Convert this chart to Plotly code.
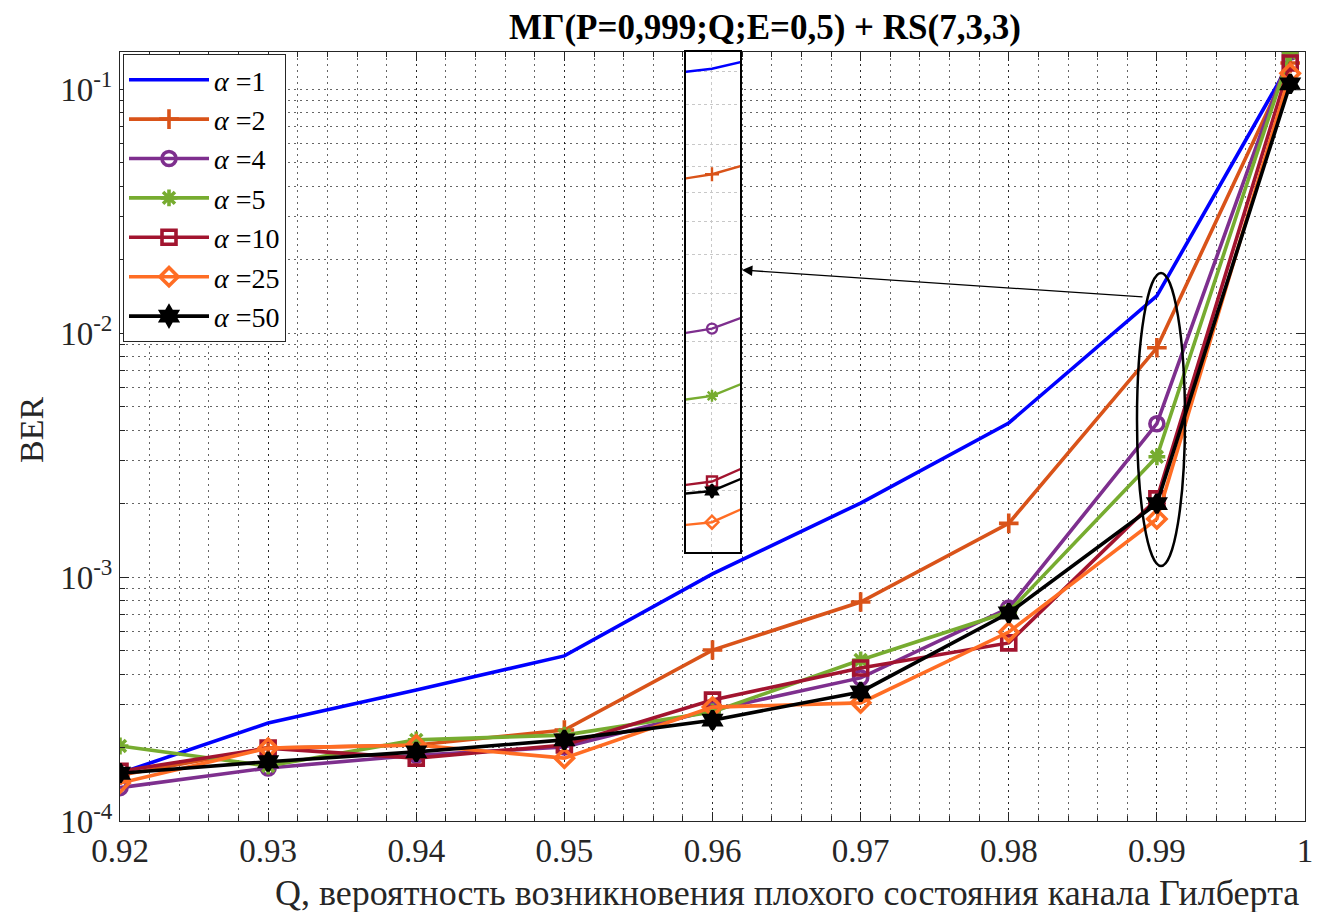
import plotly.graph_objects as go

# ---------------- data ----------------
Q = [0.92, 0.93, 0.94, 0.95, 0.96, 0.97, 0.98, 0.99, 0.999]

ber_a1 = [1.57e-4, 2.52e-4, 3.44e-4, 4.75e-4, 1.03e-3, 2.01e-3, 4.28e-3, 1.42e-2, 0.129]
ber_a2 = [1.54e-4, 1.99e-4, 2.05e-4, 2.36e-4, 5.02e-4, 7.9e-4, 1.66e-3, 8.7e-3, 0.128]
ber_a4 = [1.37e-4, 1.65e-4, 1.86e-4, 2.01e-4, 2.85e-4, 3.86e-4, 7.46e-4, 4.25e-3, 0.142]
ber_a5 = [2.03e-4, 1.68e-4, 2.15e-4, 2.25e-4, 2.8e-4, 4.57e-4, 7.2e-4, 3.11e-3, 0.141]
ber_a10 = [1.6e-4, 1.99e-4, 1.81e-4, 2.05e-4, 3.13e-4, 4.24e-4, 5.37e-4, 2.09e-3, 0.128]
ber_a25 = [1.43e-4, 1.99e-4, 2.05e-4, 1.81e-4, 2.93e-4, 3.05e-4, 5.95e-4, 1.73e-3, 0.116]
ber_a50 = [1.57e-4, 1.75e-4, 1.92e-4, 2.15e-4, 2.59e-4, 3.38e-4, 7.12e-4, 2.0e-3, 0.105]

alphas = ["1", "2", "4", "5", "10", "25", "50"]
series = [ber_a1, ber_a2, ber_a4, ber_a5, ber_a10, ber_a25, ber_a50]
colors = ["#0000FF", "#D95319", "#7E2F8E", "#77AC30", "#A2142F", "#FF6D24", "#000000"]
symbols = [None, "cross-thin-open", "circle-open", "asterisk-open", "square-open", "diamond-open", "hexagram"]

x_tickvals = [0.92, 0.93, 0.94, 0.95, 0.96, 0.97, 0.98, 0.99, 1.0]
x_ticktext = ["0.92", "0.93", "0.94", "0.95", "0.96", "0.97", "0.98", "0.99", "1"]
y_tickvals = [1e-4, 1e-3, 1e-2, 1e-1]
y_ticktext = ["10<sup>-4</sup>", "10<sup>-3</sup>", "10<sup>-2</sup>", "10<sup>-1</sup>"]
y_minor = [k * 10.0 ** e for e in (-4, -3, -2, -1) for k in range(2, 10)]

title_text = "<b>МГ(P=0,999;Q;E=0,5) + RS(7,3,3)</b>"
xlabel = "Q, вероятность возникновения плохого состояния канала Гилберта"
ylabel = "BER"

FONT = "Liberation Serif"
OFF = 8                      # page body margin
W, H = 1330 - 2 * OFF, 920 - 2 * OFF
# plot area in screen pixels
L, R, T, B = 120, 1305, 52, 821


def px(x):
    return (x - L) / (R - L)


def py(y):
    return (B - y) / (B - T)


fig = go.Figure()

for a, ys, c, s in zip(alphas, series, colors, symbols):
    mode = "lines" if s is None else "lines+markers"
    fig.add_trace(go.Scatter(
        x=Q, y=ys, mode=mode, name="<i>α</i> =" + a,
        line=dict(color=c, width=3.6),
        marker=dict(symbol=s or "circle", size=14, color=c,
                    line=dict(color=c, width=3.6)),
        xaxis="x", yaxis="y"))

for a, ys, c, s in zip(alphas, series, colors, symbols):
    mode = "lines" if s is None else "lines+markers"
    fig.add_trace(go.Scatter(
        x=Q, y=ys, mode=mode, showlegend=False,
        line=dict(color=c, width=2.4),
        marker=dict(symbol=s or "circle", size=10, color=c,
                    line=dict(color=c, width=2.4)),
        xaxis="x2", yaxis="y2"))

gridc = "rgba(0,0,0,0.6)"
gdash = "2px,4px"
fig.update_layout(
    width=W, height=H,
    margin=dict(l=L - OFF, r=W - (R - OFF), t=T - OFF, b=H - (B - OFF)),
    paper_bgcolor="white", plot_bgcolor="white",
    font=dict(family=FONT, size=30, color="#262626"),
    title=dict(text=title_text, x=(765 - OFF) / W, xanchor="center",
               y=1 - (27 - OFF) / H, yanchor="middle",
               font=dict(family=FONT, size=35, color="black")),
    xaxis=dict(
        range=[0.92, 1.0], tickvals=x_tickvals, ticktext=x_ticktext,
        ticks="inside", ticklen=9, tickwidth=1, tickcolor="#262626",
        showline=True, linecolor="#262626", linewidth=1, mirror="allticks",
        showgrid=True, gridcolor=gridc, griddash=gdash, gridwidth=1,
        minor=dict(dtick=0.002, ticks="inside", ticklen=5, tickcolor="#262626",
                   showgrid=True, gridcolor=gridc, griddash=gdash, gridwidth=1),
        tickfont=dict(family=FONT, size=33, color="#262626"),
        zeroline=False, automargin=False),
    yaxis=dict(
        type="log", range=[-4, -0.848], tickvals=y_tickvals, ticktext=y_ticktext,
        ticks="inside", ticklen=9, tickwidth=1, tickcolor="#262626",
        showline=True, linecolor="#262626", linewidth=1, mirror="allticks",
        showgrid=True, gridcolor=gridc, griddash=gdash, gridwidth=1,
        minor=dict(tickvals=y_minor, ticks="inside", ticklen=5, tickcolor="#262626",
                   showgrid=True, gridcolor=gridc, griddash=gdash, gridwidth=1),
        tickfont=dict(family=FONT, size=33, color="#262626"),
        zeroline=False, automargin=False),
    xaxis2=dict(
        range=[0.989885, 0.990124], domain=[px(686), px(740)], anchor="y2",
        showticklabels=False, ticks="", tickvals=[0.99],
        showline=True, linecolor="black", linewidth=1.5, mirror=True,
        showgrid=True, gridcolor="#c8c8c8", griddash="dot", zeroline=False),
    yaxis2=dict(
        type="log", range=[-2.822, -1.814], domain=[py(552), py(52)], anchor="x2",
        showticklabels=False, ticks="",
        tickvals=[2e-3, 3e-3, 4e-3, 5e-3, 6e-3, 7e-3, 8e-3, 9e-3, 1e-2, 1.2e-2, 1.4e-2],
        showline=True, linecolor="black", linewidth=1.5, mirror=True,
        showgrid=True, gridcolor="#c8c8c8", griddash="dot", zeroline=False),
    legend=dict(
        x=px(123), y=py(54), xanchor="left", yanchor="top",
        bgcolor="white", bordercolor="#262626", borderwidth=1,
        font=dict(family=FONT, size=28, color="black"),
        itemwidth=80, tracegroupgap=0),
    showlegend=True,
)

# white background of the inset
fig.add_shape(type="rect", xref="x2", yref="y2",
              x0=0.989885, x1=0.990124, y0=-2.822, y1=-1.814,
              fillcolor="white", line=dict(width=0), layer="below")

# ellipse around the 0.99 points
fig.add_shape(type="circle", xref="paper", yref="paper",
              x0=px(1137), x1=px(1185), y0=py(566), y1=py(273),
              line=dict(color="black", width=2.5))

# arrow pointing to the inset
fig.add_annotation(x=px(742), y=py(270), xref="paper", yref="paper",
                   ax=402, ay=27, axref="pixel", ayref="pixel",
                   text="", showarrow=True, arrowhead=2, arrowsize=1.6,
                   arrowwidth=1.3, arrowcolor="black", standoff=0)

# axis labels
fig.add_annotation(text=xlabel, x=px(787), y=py(893), xref="paper", yref="paper",
                   xanchor="center", yanchor="middle", showarrow=False,
                   font=dict(family=FONT, size=36, color="#262626"))
fig.add_annotation(text=ylabel, x=px(31), y=py(430), xref="paper", yref="paper",
                   xanchor="center", yanchor="middle", showarrow=False, textangle=-90,
                   font=dict(family=FONT, size=34, color="#262626"))

fig.write_html("out.html")
